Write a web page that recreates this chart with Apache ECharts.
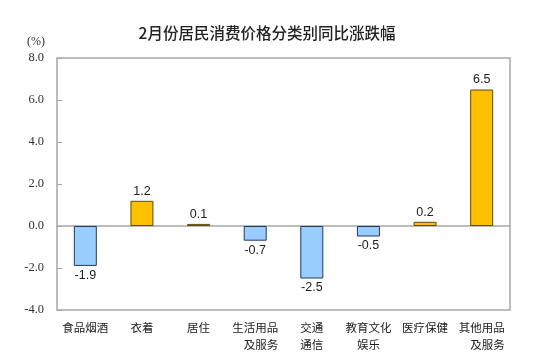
<!DOCTYPE html>
<html><head><meta charset="utf-8">
<script src="https://cdn.jsdelivr.net/npm/echarts@6/dist/echarts.min.js"></script>
<style>html,body{margin:0;padding:0;background:#fff}#c{width:534px;height:363px}</style>
</head><body><div id="c"></div>
<script>
const titleText = '2月份居民消费价格分类别同比涨跌幅';
const categories = ['食品烟酒', '衣着', '居住', '生活用品\n\u3000及服务', '交通\n通信', '教育文化\n娱乐', '医疗保健', '其他用品\n\u3000及服务'];
const values = [-1.9, 1.2, 0.1, -0.7, -2.5, -0.5, 0.2, 6.5];
const yMin = -4, yMax = 8, yStep = 2;

const chart = echarts.init(document.getElementById('c'), null, {renderer: 'canvas'});
chart.setOption({
  backgroundColor: '#fff',
  animation: false,
  title: {
    text: titleText, left: 'center', top: 20,
    textStyle: {fontFamily: 'Noto Sans CJK SC', fontSize: 15.5, fontWeight: 500, color: '#222'}
  },
  grid: {left: 57, right: 24, top: 58, bottom: 53, show: true, borderColor: '#A6A6A6', borderWidth: 1.5, backgroundColor: 'transparent'},
  xAxis: [{
    type: 'category', data: categories, position: 'bottom',
    axisLine: {show: false, onZero: false},
    axisTick: {show: false},
    axisLabel: {interval: 0, margin: 9, fontFamily: 'Noto Sans CJK SC', fontSize: 11.5, lineHeight: 17, color: '#222'}
  }, {
    type: 'category', data: categories,
    axisLine: {show: true, onZero: true, lineStyle: {color: '#A6A6A6', width: 1.5}},
    axisTick: {show: false}, axisLabel: {show: false}
  }],
  yAxis: {
    type: 'value', min: yMin, max: yMax, interval: yStep,
    name: '(%)', nameLocation: 'end', nameGap: 10,
    nameTextStyle: {fontFamily: 'Liberation Serif', fontSize: 12, color: '#333', align: 'right', padding: [0, 12, 0, 0]},
    axisLine: {show: false},
    axisTick: {show: true, inside: true, length: 5, lineStyle: {color: '#A6A6A6'}},
    splitLine: {show: false},
    axisLabel: {margin: 13, fontFamily: 'Liberation Serif', fontSize: 12.5, color: '#333', formatter: v => v.toFixed(1)}
  },
  series: [{
    type: 'bar', xAxisIndex: 0, barWidth: 23,
    data: values.map(v => ({
      value: v,
      itemStyle: v >= 0 ? {color: '#FFC000', borderColor: '#5C4A10', borderWidth: 1}
                        : {color: '#99CCFF', borderColor: '#1F3A5F', borderWidth: 1},
      label: {position: v >= 0 ? 'top' : 'bottom'}
    })),
    label: {show: true, distance: 3, fontFamily: 'Liberation Sans', fontSize: 12.5, color: '#222', formatter: p => p.value.toFixed(1)}
  }]
});
</script></body></html>
